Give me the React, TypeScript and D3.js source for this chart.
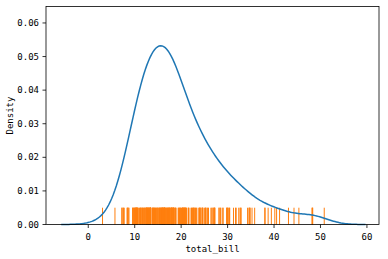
import React from "react";
import * as d3 from "d3";

const totalBill: number[] = [
  16.99, 10.34, 21.01, 23.68, 24.59, 25.29, 8.77, 26.88, 15.04, 14.78, 10.27, 35.26, 15.42, 18.43, 14.83, 21.58,
  10.33, 16.29, 16.97, 20.65, 17.92, 20.29, 15.77, 39.42, 19.82, 17.81, 13.37, 12.69, 21.7, 19.65, 9.55, 18.35,
  15.06, 20.69, 17.78, 24.06, 16.31, 16.93, 18.69, 31.27, 16.04, 17.46, 13.94, 9.68, 30.4, 18.29, 22.23, 32.4,
  28.55, 18.04, 12.54, 10.29, 34.81, 9.94, 25.56, 19.49, 38.01, 26.41, 11.24, 48.27, 20.29, 13.81, 11.02, 18.29,
  17.59, 20.08, 16.45, 3.07, 20.23, 15.01, 12.02, 17.07, 26.86, 25.28, 14.73, 10.51, 17.92, 27.2, 22.76, 17.29,
  19.44, 16.66, 10.07, 32.68, 15.98, 34.83, 13.03, 18.28, 24.71, 21.16, 28.97, 22.49, 5.75, 16.32, 22.75, 40.17,
  27.28, 12.03, 21.01, 12.46, 11.35, 15.38, 44.3, 22.42, 20.92, 15.36, 20.49, 25.21, 18.24, 14.31, 14.0, 7.25,
  38.07, 23.95, 25.71, 17.31, 29.93, 10.65, 12.43, 24.08, 11.69, 13.42, 14.26, 15.95, 12.48, 29.8, 8.52, 14.52,
  11.38, 22.82, 19.08, 20.27, 11.17, 12.26, 18.26, 8.51, 10.33, 14.15, 16.0, 13.16, 17.47, 34.3, 41.19, 27.05,
  16.43, 8.35, 18.64, 11.87, 9.78, 7.51, 14.07, 13.13, 17.26, 24.55, 19.77, 29.85, 48.17, 25.0, 13.39, 16.49,
  21.5, 12.66, 16.21, 13.81, 17.51, 24.52, 20.76, 31.71, 10.59, 10.63, 50.81, 15.81, 7.25, 31.85, 16.82, 32.9,
  17.89, 14.48, 9.6, 34.63, 34.65, 23.33, 45.35, 23.17, 40.55, 20.69, 20.9, 30.46, 18.15, 23.1, 15.69, 19.81,
  28.44, 15.48, 16.58, 7.56, 10.34, 43.11, 13.0, 13.51, 18.71, 12.74, 13.0, 16.4, 20.53, 16.47, 26.59, 38.73,
  24.27, 12.76, 30.06, 25.89, 48.33, 13.27, 28.17, 12.9, 28.15, 11.59, 7.74, 30.14, 12.16, 13.42, 8.58, 15.98,
  13.42, 16.27, 10.09, 20.45, 13.28, 22.12, 24.01, 15.69, 11.61, 10.77, 15.53, 10.07, 12.6, 32.83, 35.83, 29.03,
  27.18, 22.67, 17.82, 18.78,
];

const xTicks: number[] = [0, 10, 20, 30, 40, 50, 60];
const yTicks: number[] = [0, 0.01, 0.02, 0.03, 0.04, 0.05, 0.06];
const xLabel = "total_bill";
const yLabel = "Density";
const rugHeight = 0.005;

// Gaussian KDE (Scott's rule, cut=3, 200 grid points) from the data
function kde(values: number[]) {
  const n = values.length;
  const sd = d3.deviation(values) as number;
  const bw = sd * Math.pow(n, -1 / 5);
  const lo = (d3.min(values) as number) - 3 * bw;
  const hi = (d3.max(values) as number) + 3 * bw;
  const grid = d3.range(200).map((i) => lo + ((hi - lo) * i) / 199);
  const c = 1 / (n * bw * Math.sqrt(2 * Math.PI));
  return grid.map((x) => [x, c * d3.sum(values, (v) => Math.exp(-0.5 * ((x - v) / bw) ** 2))] as [number, number]);
}

export default function App() {
  const W = 388, H = 259;
  const L = 46, R = 379, T = 6.5, B = 224.5;
  const x = d3.scaleLinear().domain([-9.1, 62.6]).range([L, R]);
  const y = d3.scaleLinear().domain([0, 0.0649]).range([B, T]);
  const pts = kde(totalBill);
  const line = d3.line<[number, number]>().x((d) => x(d[0])).y((d) => y(d[1]));
  const font = "'DejaVu Sans Mono', monospace";
  return (
    <svg width={W} height={H} style={{ position: "absolute", left: 0, top: 0, background: "#fff" }}>
      <g>
        {totalBill.map((v, i) => (
          <line key={i} x1={x(v)} x2={x(v)} y1={y(0)} y2={y(rugHeight)} stroke="#ff7f0e" strokeWidth={1} />
        ))}
      </g>
      <path d={line(pts) || ""} fill="none" stroke="#1f77b4" strokeWidth={1.5} />
      <rect x={L} y={T} width={R - L} height={B - T} fill="none" stroke="#000" strokeWidth={0.8} />
      {xTicks.map((t) => (
        <g key={t} transform={`translate(${x(t)},${B})`}>
          <line y2={3.5} stroke="#000" strokeWidth={0.8} />
          <text y={15} textAnchor="middle" fontFamily={font} fontSize={9} fill="#000">{t}</text>
        </g>
      ))}
      {yTicks.map((t) => (
        <g key={t} transform={`translate(${L},${y(t)})`}>
          <line x2={-3.5} stroke="#000" strokeWidth={0.8} />
          <text x={-7} dy="0.35em" textAnchor="end" fontFamily={font} fontSize={9} fill="#000">{t.toFixed(2)}</text>
        </g>
      ))}
      <text x={(L + R) / 2} y={252} textAnchor="middle" fontFamily={font} fontSize={9} fill="#000">{xLabel}</text>
      <text transform={`translate(13,${(T + B) / 2}) rotate(-90)`} textAnchor="middle" fontFamily={font} fontSize={9} fill="#000">{yLabel}</text>
    </svg>
  );
}
